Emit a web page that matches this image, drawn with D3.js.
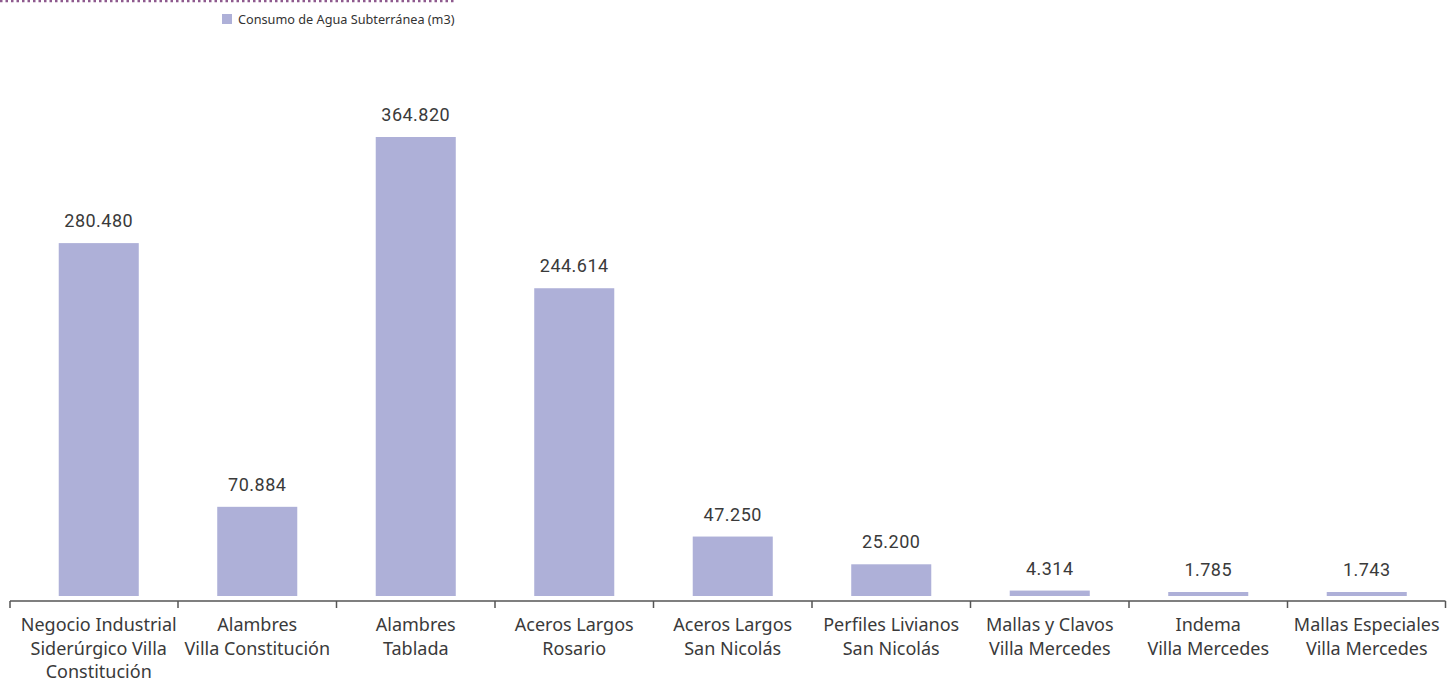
<!DOCTYPE html>
<html>
<head>
<meta charset="utf-8">
<script src="https://cdn.jsdelivr.net/npm/d3@7"></script>
<style>
  body { margin: 0; background: #fff; }
  svg { display: block; }
  .cat { font-family: "Noto Sans", Lato, sans-serif; font-size: 18px; fill: #3a3a3a; }
  .val { font-family: Roboto, sans-serif; font-size: 18px; fill: #3a3a3a; letter-spacing: 0.5px; }
  .leg { font-family: "Noto Sans", sans-serif; font-size: 12.7px; fill: #333; }
</style>
</head>
<body>
<svg id="chart"></svg>
<script>
var width = 1447;
var height = 684;
var barColour = "#aeb0d8";

var categories = [
    ["Negocio Industrial", "Siderúrgico Villa", "Constitución"],
    ["Alambres", "Villa Constitución"],
    ["Alambres", "Tablada"],
    ["Aceros Largos", "Rosario"],
    ["Aceros Largos", "San Nicolás"],
    ["Perfiles Livianos", "San Nicolás"],
    ["Mallas y Clavos", "Villa Mercedes"],
    ["Indema", "Villa Mercedes"],
    ["Mallas Especiales", "Villa Mercedes"]
];
var values = [280480, 70884, 364820, 244614, 47250, 25200, 4314, 1785, 1743];
var valueLabels = ["280.480", "70.884", "364.820", "244.614", "47.250", "25.200", "4.314", "1.785", "1.743"];
var seriesName = "Consumo de Agua Subterránea (m3)";

var svg = d3.select("#chart").attr("width", width).attr("height", height);

// dotted rule at the top
svg.append("line")
    .attr("x1", 0).attr("x2", 454)
    .attr("y1", 1).attr("y2", 1)
    .attr("stroke", "#8e5a8e")
    .attr("stroke-width", 2.5)
    .attr("stroke-dasharray", "2.5,3");

// legend
svg.append("rect")
    .attr("x", 222).attr("y", 14)
    .attr("width", 10).attr("height", 10)
    .attr("fill", barColour);
svg.append("text")
    .attr("class", "leg")
    .attr("x", 238).attr("y", 23.5)
    .text(seriesName);

var idx = d3.range(values.length);
var scaleX = d3.scaleBand().domain(idx).range([19.5, 1446]).paddingInner(0.495).paddingOuter(0.2475);
var baseline = 596;
var scaleY = d3.scaleLinear().domain([0, 364820]).range([baseline, 137]);

function barTop(d) {
    return Math.min(scaleY(d), baseline - 4);
}

svg.selectAll("rect.bar").data(values).enter().append("rect")
    .attr("class", "bar")
    .attr("x", function(d, i) { return scaleX(i); })
    .attr("width", scaleX.bandwidth())
    .attr("y", barTop)
    .attr("height", function(d) { return baseline - barTop(d); })
    .attr("fill", barColour);

svg.selectAll("text.val").data(values).enter().append("text")
    .attr("class", "val")
    .attr("text-anchor", "middle")
    .attr("x", function(d, i) { return scaleX(i) + scaleX.bandwidth() / 2; })
    .attr("y", function(d) { return barTop(d) - 16; })
    .text(function(d, i) { return valueLabels[i]; });

// axis with ticks on band edges
var axisY = 601;
var step = scaleX.step();
var tickXs = idx.map(function(i) { return 19.5 + i * step; });
tickXs[0] = 10;
tickXs.push(1445.5);

var axis = svg.append("g").attr("class", "axis");
axis.append("line")
    .attr("x1", 10).attr("x2", 1445.5)
    .attr("y1", axisY).attr("y2", axisY)
    .attr("stroke", "#555").attr("stroke-width", 1.5);
axis.selectAll("line.tick").data(tickXs).enter().append("line")
    .attr("class", "tick")
    .attr("x1", function(d) { return d; }).attr("x2", function(d) { return d; })
    .attr("y1", axisY).attr("y2", axisY + 7)
    .attr("stroke", "#555").attr("stroke-width", 1.5);

var labels = svg.selectAll("text.cat").data(categories).enter().append("text")
    .attr("class", "cat")
    .attr("text-anchor", "middle")
    .attr("x", function(d, i) { return scaleX(i) + scaleX.bandwidth() / 2; })
    .attr("y", 631);
labels.selectAll("tspan").data(function(d) { return d; }).enter().append("tspan")
    .attr("x", function() { return d3.select(this.parentNode).attr("x"); })
    .attr("dy", function(d, i) { return i === 0 ? 0 : 23.5; })
    .text(function(d) { return d; });
</script>
</body>
</html>
